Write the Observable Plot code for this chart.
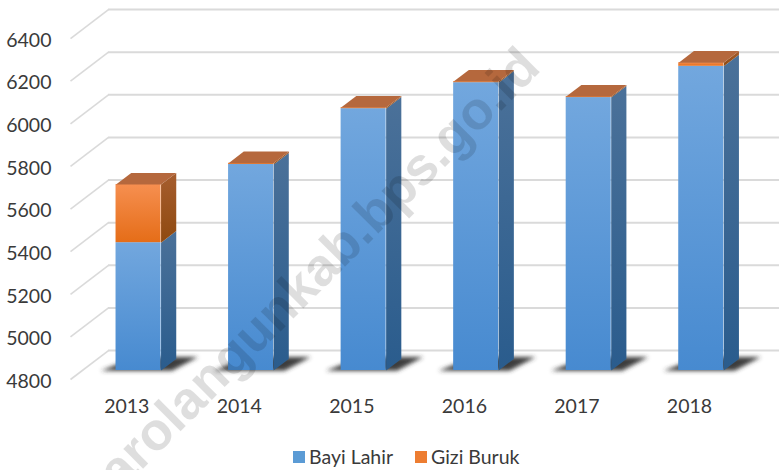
<!DOCTYPE html>
<html>
<head>
<meta charset="utf-8">
<script src="https://cdn.jsdelivr.net/npm/d3@7"></script>
<script src="https://cdn.jsdelivr.net/npm/@observablehq/plot@0.6"></script>
<style>
html,body{margin:0;padding:0;background:#fff;overflow:hidden}
#legend{position:absolute;left:0;top:440px;display:flex;align-items:center;height:30px;font:19.5px Lato,sans-serif;color:#3a3a3a;padding-left:293px;box-sizing:border-box;padding-top:3px}
#legend span.sw{display:inline-block;width:12px;height:12px;margin-right:4px}
#legend span.t{margin-right:22px}
</style>
</head>
<body>
<div id="chart"></div>
<div id="legend"></div>
<script>
const years = [2013, 2014, 2015, 2016, 2017, 2018];
const bayiLahir = [5400, 5767, 6029, 6151, 6081, 6228];
const giziBuruk = [273, 6, 5, 5, 5, 17];
const yTicks = [4800, 5000, 5200, 5400, 5600, 5800, 6000, 6200, 6400];
const seriesNames = ["Bayi Lahir", "Gizi Buruk"];
const seriesSwatch = ["#5b9bd5", "#ed7d31"];

// oblique projection of the 3-D chart, expressed in data units
const BASE = 4800, DX = 0.3375, DY = 136;
const D0 = 0.31, D1 = 0.71, HALF = 0.2;
const wx = (i, d) => i + d * DX;
const wy = (v, d) => v + d * DY;

const idx = years.map((_, i) => i);
const segments = idx.flatMap(i => [
  {i, s: 0, lo: BASE, hi: bayiLahir[i]},
  {i, s: 1, lo: bayiLahir[i], hi: bayiLahir[i] + giziBuruk[i]}
]);
const side = s => segments.filter(d => d.s === s).flatMap(d => [
  [wx(d.i + HALF, D0), wy(d.lo, D0)], [wx(d.i + HALF, D1), wy(d.lo, D1)],
  [wx(d.i + HALF, D1), wy(d.hi, D1)], [wx(d.i + HALF, D0), wy(d.hi, D0)]
].map(([x, y]) => ({id: d.i, x, y})));
const topFace = idx.flatMap(i => {
  const v = bayiLahir[i] + giziBuruk[i];
  return [[i - HALF, D0], [i + HALF, D0], [i + HALF, D1], [i - HALF, D1]]
    .map(([c, d]) => ({id: i, x: wx(c, d), y: wy(v, d)}));
});
const shadow = idx.flatMap(i =>
  [[i - HALF - 0.13, D0 - 0.01], [i + HALF + 0.1, D0 - 0.01], [i + HALF + 0.17, D0 + 0.47], [i - HALF + 0.02, D0 + 0.47]]
    .map(([c, d]) => ({id: i, x: wx(c, d), y: wy(BASE, d)})));
const gridBack = yTicks.map(v => ({x1: -0.5, x2: -0.5 + DX, y1: v, y2: v + DY}));

const grad = (id, top, bottom) =>
  `<linearGradient id="${id}" x1="0" y1="0" x2="0" y2="1"><stop offset="0" stop-color="${top}"/><stop offset="1" stop-color="${bottom}"/></linearGradient>`;
const defs = () => {
  const g = document.createElementNS("http://www.w3.org/2000/svg", "defs");
  g.innerHTML =
    grad("fb", "#72a7de", "#478ad0") + grad("fo", "#f68f50", "#e56d18") +
    grad("sb", "#4b7199", "#2a5c8d") + grad("so", "#a65d2e", "#8f4a10") +
    `<filter id="blur" x="-30%" y="-60%" width="160%" height="220%"><feGaussianBlur stdDeviation="2"/></filter>`;
  return g;
};
const blurred = (i, s, v, d, c, next) => {
  const g = next(i, s, v, d, c);
  g.setAttribute("filter", "url(#blur)");
  return g;
};
const poly = (rows, fill, extra = {}) =>
  Plot.line(rows, {x: "x", y: "y", z: "id", fill, stroke: "none", curve: "linear-closed", ...extra});

const plot = Plot.plot({
  width: 779,
  height: 470,
  marginLeft: 70,
  marginRight: 0,
  marginTop: 4,
  marginBottom: 91,
  style: {background: "#fff", overflow: "hidden", fontFamily: "Lato, sans-serif"},
  x: {type: "linear", domain: [-0.5, 5.8], axis: null},
  y: {type: "linear", domain: [4800, 6560], axis: null},
  marks: [
    defs,
    Plot.ruleY(yTicks.map(v => v + DY), {x1: -0.5 + DX, x2: 5.8, stroke: "#dadada", strokeWidth: 2}),
    Plot.link(gridBack, {x1: "x1", y1: "y1", x2: "x2", y2: "y2", stroke: "#dadada", strokeWidth: 1.6}),
    poly(shadow, "#333333", {fillOpacity: 0.95, render: blurred}),
    poly(side(0), "url(#sb)"),
    poly(side(1), "url(#so)"),
    Plot.rect(segments.filter(d => d.s === 0), {
      x1: d => wx(d.i - HALF, D0), x2: d => wx(d.i + HALF, D0),
      y1: d => wy(d.lo, D0), y2: d => wy(d.hi, D0), fill: "url(#fb)"
    }),
    Plot.rect(segments.filter(d => d.s === 1), {
      x1: d => wx(d.i - HALF, D0), x2: d => wx(d.i + HALF, D0),
      y1: d => wy(d.lo, D0), y2: d => wy(d.hi, D0), fill: "url(#fo)"
    }),
    poly(topFace, "#b5683d"),
    Plot.axisY({ticks: yTicks, tickSize: 0, tickPadding: 19, anchor: "left", fontSize: 19.5, dy: 2, tickFormat: d => String(d), label: null, fill: "#3a3a3a"}),
    Plot.axisX({ticks: idx, tickSize: 0, tickPadding: 20, anchor: "bottom", fontSize: 19.5, tickFormat: i => String(years[Math.round(i)]), label: null, fill: "#3a3a3a"}),
    Plot.text(["arolangunkab.bps.go.id"], {
      x: [3.693], y: [6255], text: d => d, rotate: -45, textAnchor: "end", lineAnchor: "bottom",
      fontSize: 53, fontWeight: 700, fontFamily: "Liberation Sans", fill: "#000", fillOpacity: 0.13
    })
  ]
});
document.getElementById("chart").appendChild(plot);
plot.style.display = "block";

const lg = d3.select("#legend");
seriesNames.forEach((n, k) => {
  lg.append("span").attr("class", "sw").style("background", seriesSwatch[k]);
  lg.append("span").attr("class", "t").text(n);
});
</script>
</body>
</html>
